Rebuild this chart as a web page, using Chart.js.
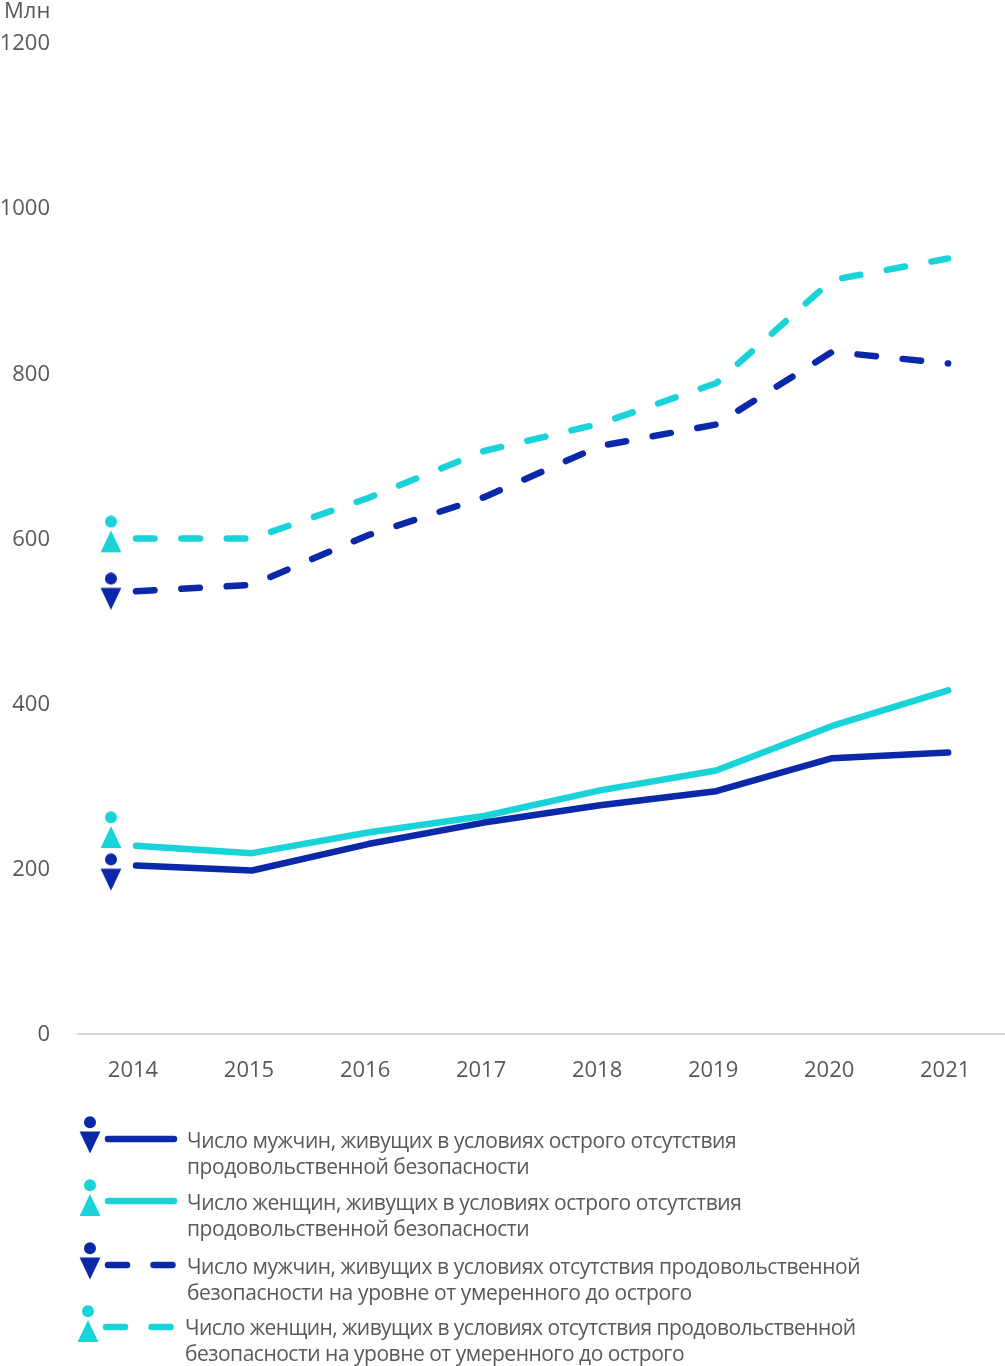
<!DOCTYPE html>
<html><head><meta charset="utf-8">
<style>html,body{margin:0;padding:0;background:#fff;overflow:hidden}#w{position:absolute;left:0;top:0;width:1005px;height:1366px}</style>
<script src="https://cdn.jsdelivr.net/npm/chart.js@4"></script>
</head><body><div id="w"><canvas id="c"></canvas></div>
<script>
const years=[2014,2015,2016,2017,2018,2019,2020,2021];
const menSevere=[204,198,230,256,277,294,334,341];
const womenSevere=[228,219,244,264,295,319,373,416];
const menModerate=[536,544,604,650,712,738,826,812];
const womenModerate=[600,600,649,706,739,788,913,939];
const iconYear=2013.784;
const menIconValues=[536,196];
const womenIconValues=[605,247];
const yTicks=[0,200,400,600,800,1000,1200];
const unitLabel='Млн';
const legendLabels=[
 ['Число мужчин, живущих в условиях острого отсутствия','продовольственной безопасности'],
 ['Число женщин, живущих в условиях острого отсутствия','продовольственной безопасности'],
 ['Число мужчин, живущих в условиях отсутствия продовольственной','безопасности на уровне от умеренного до острого'],
 ['Число женщин, живущих в условиях отсутствия продовольственной','безопасности на уровне от умеренного до острого']];
const NAVY='#0a28a8',TEAL='#19d3d8',TXT='#58595b',FONT='"Open Sans"';
function personIcon(col,down){
 const c=document.createElement('canvas');c.width=22;c.height=38;const g=c.getContext('2d');
 g.fillStyle=col;g.beginPath();g.arc(11,6.2,6,0,7);g.fill();
 g.beginPath();
 if(down){g.moveTo(.6,15.5);g.lineTo(21.4,15.5);g.lineTo(11,37.5);}
 else{g.moveTo(11,15);g.lineTo(21.4,37);g.lineTo(.6,37);}
 g.closePath();g.fill();return c;
}
const menIcon=personIcon(NAVY,true),womenIcon=personIcon(TEAL,false);
const xy=a=>a.map((v,i)=>({x:years[i],y:v}));
const line=(label,data,col,dash)=>({type:'line',label,data:xy(data),borderColor:col,borderWidth:6.5,pointRadius:0,borderCapStyle:'round',borderJoinStyle:'round',borderDash:dash||[],tension:0});
const icons=(label,vals,img)=>({type:'scatter',label,data:vals.map(y=>({x:iconYear,y})),pointStyle:img,pointRadius:11,showLine:false});
const legendPlugin={id:'legendText',afterDraw(ch){
 const g=ch.ctx;g.save();
 g.fillStyle=TXT;g.font='22px '+FONT;g.textBaseline='alphabetic';g.textAlign='left';
 g.fillText(unitLabel,4,18);
 const rows=[
  {col:NAVY,img:menIcon,ix:90,iy:1135,lx:105,ly:1139,tx:187,b:1148,dash:false,s1:-0.43,s2:-0.43},
  {col:TEAL,img:womenIcon,ix:90,iy:1198,lx:105,ly:1201,tx:187,b:1210,dash:false,s1:-0.43,s2:-0.43},
  {col:NAVY,img:menIcon,ix:90,iy:1261,lx:105,ly:1265,tx:187,b:1274,dash:true,s1:-0.44,s2:-0.37},
  {col:TEAL,img:womenIcon,ix:88,iy:1324,lx:103,ly:1327,tx:185,b:1335,dash:true,s1:-0.57,s2:-0.49}];
 rows.forEach((r,i)=>{
  g.drawImage(r.img,r.ix-11,r.iy-19);
  g.strokeStyle=r.col;g.lineWidth=6.5;g.lineCap='round';
  g.setLineDash(r.dash?[19,26.5]:[]);
  g.beginPath();g.moveTo(r.lx+3,r.ly);g.lineTo(r.lx+69,r.ly);g.stroke();
  g.setLineDash([]);
  g.fillStyle=TXT;g.font='21px '+FONT;
  g.letterSpacing=r.s1+'px';g.fillText(legendLabels[i][0],r.tx,r.b);
  g.letterSpacing=r.s2+'px';g.fillText(legendLabels[i][1],r.tx,r.b+26);
 });
 g.restore();
}};
new Chart(document.getElementById('c'),{
 data:{datasets:[
  line('Число мужчин, острое',menSevere,NAVY),
  line('Число женщин, острое',womenSevere,TEAL),
  line('Число мужчин, умеренное',menModerate,NAVY,[18.5,26.89]),
  line('Число женщин, умеренное',womenModerate,TEAL,[18.5,26.89]),
  icons('Мужчины',menIconValues,menIcon),
  icons('Женщины',womenIconValues,womenIcon)]},
 options:{responsive:true,maintainAspectRatio:false,animation:false,devicePixelRatio:1,
  layout:{autoPadding:false,padding:{top:43,left:0,right:0,bottom:282}},
  plugins:{legend:{display:false},tooltip:{enabled:false}},
  scales:{
   x:{type:'linear',min:2013.5,max:2021.49,
    afterBuildTicks:s=>{s.ticks=years.map(v=>({value:v}));},
    afterFit:s=>{s.height=50;s.paddingRight=0;s.paddingLeft=0;},
    grid:{display:false,drawTicks:false},border:{display:true,color:'#d9d9d9',width:2},
    ticks:{autoSkip:false,maxRotation:0,padding:24,labelOffset:-3,color:TXT,font:{family:FONT,size:22},callback:v=>String(v)}},
   y:{min:0,max:1200,
    afterBuildTicks:s=>{s.ticks=yTicks.map(v=>({value:v}));},
    afterFit:s=>{s.width=78;s.paddingTop=0;s.paddingBottom=0;},
    grid:{display:false,drawTicks:false},border:{display:false},
    ticks:{padding:28,labelOffset:1,color:TXT,font:{family:FONT,size:22},callback:v=>String(v)}}
  }},
 plugins:[legendPlugin]
});
</script></body></html>
